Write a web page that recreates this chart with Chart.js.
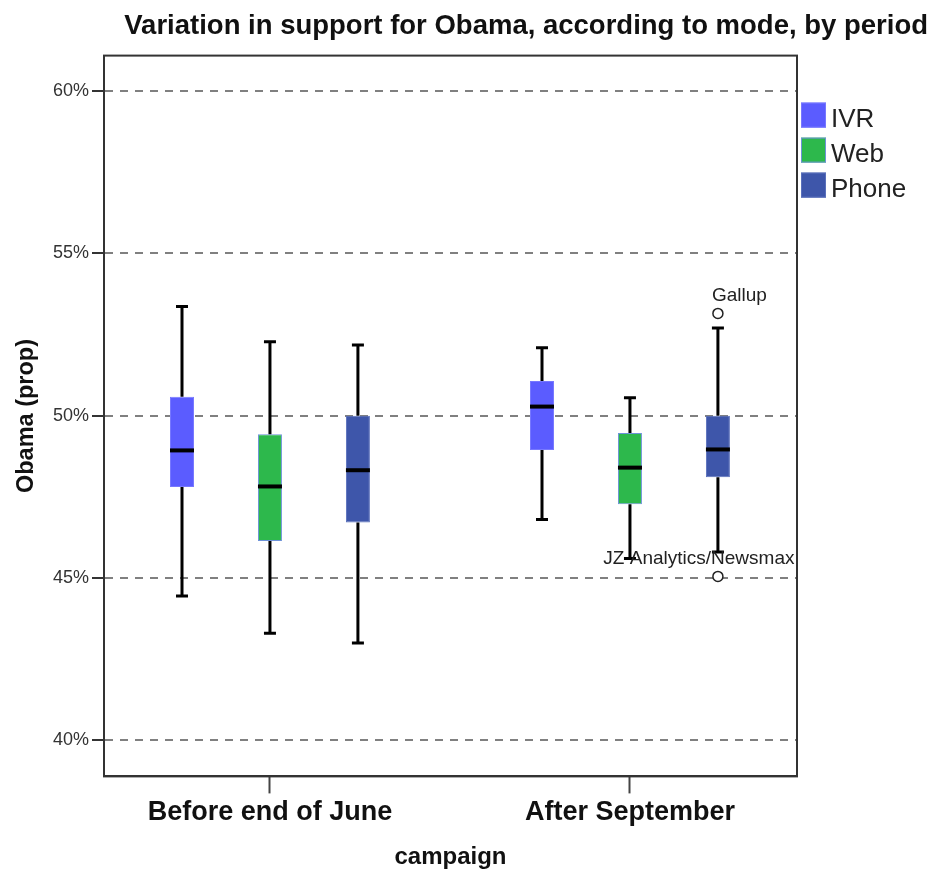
<!DOCTYPE html>
<html>
<head>
<meta charset="utf-8">
<script src="https://cdn.jsdelivr.net/npm/chart.js@4/dist/chart.umd.min.js"></script>
<style>
  html, body { margin: 0; padding: 0; background: #fff; }
</style>
</head>
<body>
<canvas id="chart" width="932" height="872"></canvas>
<script>
const periods = ['Before end of June', 'After September'];
const modes = ['IVR', 'Web', 'Phone'];
const yTicks = [40, 45, 50, 55, 60];

// one row per mode (IVR, Web, Phone), one column per period, in percent
const whiskerLow  = [[44.45, 46.8], [43.3, 45.6], [43.0, 45.8]];
const boxLow      = [[47.8, 48.94], [46.14, 47.27], [46.71, 48.1]];
const medians     = [[48.93, 50.28], [47.82, 48.4], [48.32, 48.96]];
const boxHigh     = [[50.58, 51.07], [49.43, 49.47], [50.0, 50.0]];
const whiskerHigh = [[53.36, 52.09], [52.28, 50.55], [52.18, 52.7]];

const outlierValues = [53.15, 45.05];
const outlierLabels = ['Gallup', 'JZ Analytics/Newsmax'];
const outlierMode = [2, 2];
const outlierPeriod = [1, 1];

const modeColors = ['#5b5cff', '#2db84c', '#3e56aa'];
const modeBorders = ['#7778ff', '#6d92d8', '#5a70bb'];
const FONT = '"Liberation Sans", Arial, sans-serif';

Chart.defaults.font.family = FONT;

// legend on the right, drawn as its own layout box
const sideLegend = {
  id: 'sideLegend',
  beforeInit(chart) {
    const box = {
      position: 'right', weight: 100, fullSize: false, options: {},
      isHorizontal() { return false; },
      update(maxWidth, maxHeight) { this.width = 131; this.height = maxHeight; },
      getPadding() { return {top: 0, left: 0, right: 0, bottom: 0}; },
      draw() {
        const ctx = chart.ctx;
        ctx.save();
        chart.data.datasets.forEach((ds, i) => {
          const top = this.top + 47 + i * 35;
          ctx.fillStyle = ds.backgroundColor;
          ctx.fillRect(this.left + 4, top, 25, 25);
          ctx.strokeStyle = ds.borderColor;
          ctx.lineWidth = 1;
          ctx.strokeRect(this.left + 4.5, top + 0.5, 24, 24);
          ctx.fillStyle = '#222';
          ctx.font = '26px ' + FONT;
          ctx.textBaseline = 'alphabetic';
          ctx.fillText(ds.label, this.left + 34, top + 24);
        });
        ctx.restore();
      }
    };
    Chart.layouts.addBox(chart, box);
  }
};

// whiskers, medians, outliers and the plot frame
const boxPlotMarks = {
  id: 'boxPlotMarks',
  afterDatasetsDraw(chart) {
    const {ctx, chartArea: a, scales: {y}} = chart;
    ctx.save();
    ctx.strokeStyle = '#333';
    ctx.lineWidth = 2;
    ctx.strokeRect(a.left, a.top, a.right - a.left, a.bottom - a.top);

    ctx.strokeStyle = '#000';
    modes.forEach((m, i) => {
      chart.getDatasetMeta(i).data.forEach((bar, j) => {
        const x = bar.x, half = bar.width / 2;
        const yHi = y.getPixelForValue(whiskerHigh[i][j]);
        const yLo = y.getPixelForValue(whiskerLow[i][j]);
        ctx.lineWidth = 3;
        ctx.beginPath();
        ctx.moveTo(x, y.getPixelForValue(boxHigh[i][j])); ctx.lineTo(x, yHi);
        ctx.moveTo(x, y.getPixelForValue(boxLow[i][j])); ctx.lineTo(x, yLo);
        ctx.moveTo(x - 6, yHi); ctx.lineTo(x + 6, yHi);
        ctx.moveTo(x - 6, yLo); ctx.lineTo(x + 6, yLo);
        ctx.stroke();
        const yMed = y.getPixelForValue(medians[i][j]);
        ctx.lineWidth = 4;
        ctx.beginPath();
        ctx.moveTo(x - half, yMed); ctx.lineTo(x + half, yMed);
        ctx.stroke();
      });
    });

    const labelPlace = [[-6, 'left'], [-19, 'center']];
    outlierValues.forEach((v, k) => {
      const bar = chart.getDatasetMeta(outlierMode[k]).data[outlierPeriod[k]];
      const px = bar.x, py = y.getPixelForValue(v);
      ctx.beginPath();
      ctx.arc(px, py, 5, 0, Math.PI * 2);
      ctx.fillStyle = '#fff';
      ctx.fill();
      ctx.lineWidth = 1.5;
      ctx.strokeStyle = '#222';
      ctx.stroke();
      ctx.fillStyle = '#222';
      ctx.font = '19px ' + FONT;
      ctx.textAlign = labelPlace[k][1];
      ctx.textBaseline = 'alphabetic';
      ctx.fillText(outlierLabels[k], px + labelPlace[k][0], py - 12);
    });
    ctx.restore();
  }
};

new Chart(document.getElementById('chart'), {
  type: 'bar',
  data: {
    datasets: modes.map((m, i) => ({
      label: m,
      data: periods.map((p, j) => ({x: j, y: [boxLow[i][j], boxHigh[i][j]]})),
      backgroundColor: modeColors[i],
      borderColor: modeBorders[i],
      borderWidth: 1,
      borderSkipped: false,
      categoryPercentage: 0.733,
      barPercentage: 0.2727
    }))
  },
  options: {
    responsive: false,
    animation: false,
    devicePixelRatio: 1,
    layout: {padding: {left: 0, top: 0, right: 4, bottom: 0}},
    plugins: {
      legend: {display: false},
      tooltip: {enabled: false},
      title: {
        display: true,
        text: 'Variation in support for Obama, according to mode, by period',
        align: 'end',
        color: '#111',
        font: {size: 27.5, weight: 'bold'},
        padding: {top: 10, bottom: 12.6}
      }
    },
    scales: {
      x: {
        type: 'linear',
        offset: false,
        min: -0.461,
        max: 1.464,
        afterBuildTicks: s => { s.ticks = periods.map((p, i) => ({value: i})); },
        ticks: {
          callback: v => periods[v],
          color: '#111',
          font: {size: 27, weight: 'bold'},
          padding: 3,
          maxRotation: 0,
          autoSkip: false
        },
        grid: {offset: false, drawOnChartArea: false, tickLength: 17, tickColor: '#444', tickWidth: 2},
        border: {color: '#333', width: 2},
        title: {
          display: true,
          text: 'campaign',
          color: '#111',
          font: {size: 24, weight: 'bold'},
          padding: {top: 11.4, bottom: 0}
        }
      },
      y: {
        min: 38.89,
        max: 61.09,
        afterBuildTicks: s => { s.ticks = yTicks.map(v => ({value: v})); },
        afterFit: s => { s.width = 104; },
        ticks: {callback: v => v + '%', color: '#333', font: {size: 18}, padding: 3},
        grid: {color: '#808080', lineWidth: 2, tickLength: 12, tickColor: '#333', tickWidth: 2, tickBorderDash: []},
        border: {color: '#333', width: 2, dash: [8, 7]},
        title: {
          display: true,
          text: 'Obama (prop)',
          color: '#111',
          font: {size: 23.5, weight: 'bold'},
          padding: {top: 12.5, bottom: 0}
        }
      }
    }
  },
  plugins: [sideLegend, boxPlotMarks]
});
</script>
</body>
</html>
